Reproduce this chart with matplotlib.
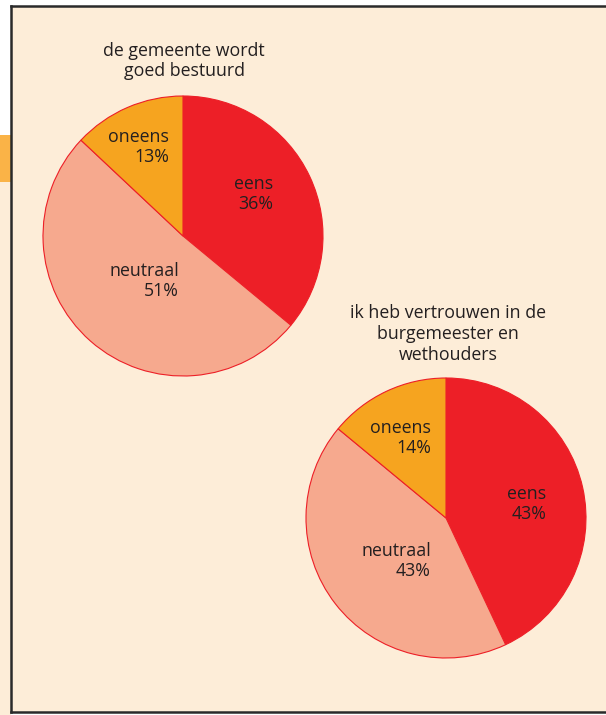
import matplotlib
matplotlib.use("Agg")
import matplotlib.pyplot as plt
from matplotlib.patches import Rectangle
from matplotlib.lines import Line2D

# Data
categories = ["eens", "neutraal", "oneens"]
pie1_title = "de gemeente wordt\ngoed bestuurd"
pie1_values = [36, 51, 13]
pie2_title = "ik heb vertrouwen in de\nburgemeester en\nwethouders"
pie2_values = [43, 43, 14]
colors = ["#ED1F27", "#F6A98E", "#F6A41F"]

W, H = 606, 715
fig = plt.figure(figsize=(W / 100, H / 100), dpi=100)
fig.patch.set_facecolor("white")
ax = fig.add_axes([0, 0, 1, 1])

def Y(py):
    return H - py

# background panel
cream = "#FDEDD8"
ax.add_patch(Rectangle((11, Y(712)), W - 11, 706, facecolor=cream, edgecolor="none", zorder=0))
ax.add_patch(Rectangle((0, Y(715)), 11, 715 - 182, facecolor=cream, edgecolor="none", zorder=0))
ax.add_patch(Rectangle((0, Y(182)), 11, 47, facecolor="#FAB347", edgecolor="none", zorder=0))
bc = "#2A2A2A"
ax.add_line(Line2D([11, 11], [Y(6), Y(712)], color=bc, lw=1.8, zorder=5))
ax.add_line(Line2D([11, W], [Y(6), Y(6)], color=bc, lw=1.8, zorder=5))
ax.add_line(Line2D([11, W], [Y(712), Y(712)], color=bc, lw=1.8, zorder=5))

font = "Open Sans"
tc = "#231F20"
fs = 12.8

def draw_pie(vals, cx, cy, r, title, title_y, title_x, label_pos):
    ax.pie(vals, colors=colors, startangle=90, counterclock=False,
           center=(cx, Y(cy)), radius=r, frame=True,
           wedgeprops=dict(edgecolor="#ED1F27", linewidth=0.8))
    ax.text(title_x, Y(title_y), title, ha="center", va="center", fontsize=fs,
            family=font, color=tc, linespacing=1.2, multialignment="center")
    for cat, v, (lx, ly) in zip(categories, vals, label_pos):
        ax.text(lx, Y(ly), f"{cat}\n{v}%", ha="right", va="center", fontsize=fs,
                family=font, color=tc, multialignment="right", linespacing=1.2)

draw_pie(pie1_values, 183, 236, 140, pie1_title, 61, 184,
         [(273, 194), (179, 281), (169, 147)])
draw_pie(pie2_values, 446, 518, 140, pie2_title, 334, 448,
         [(546, 504), (431, 561), (431, 438)])

ax.set_xlim(0, W)
ax.set_ylim(0, H)
ax.set_aspect("auto")
ax.axis("off")

fig.savefig("out.png", dpi=100, facecolor=fig.get_facecolor())
